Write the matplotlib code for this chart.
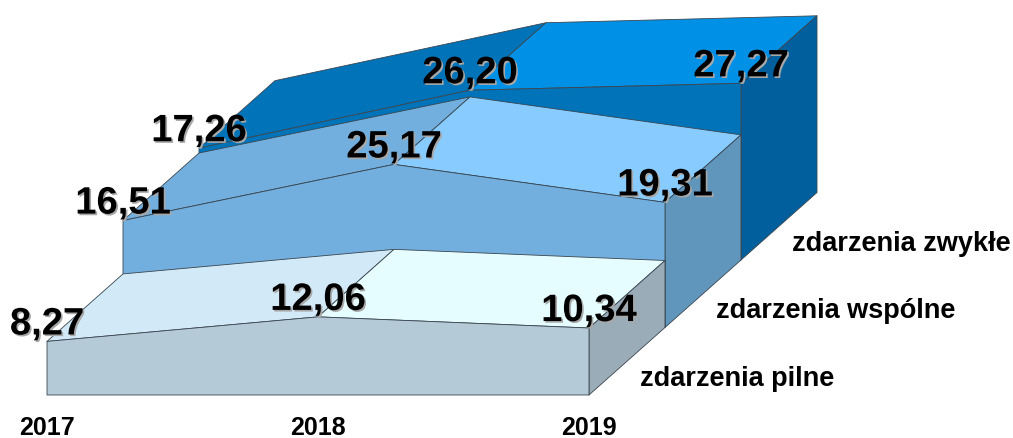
#!/usr/bin/python3

import matplotlib
matplotlib.use("Agg")
import matplotlib.pyplot as plt
import matplotlib.patheffects as pe
from matplotlib.patches import Polygon

plt.rcParams['font.family'] = ['Liberation Sans', 'DejaVu Sans']

lata = ['2017', '2018', '2019']
serie = ['zdarzenia pilne', 'zdarzenia wspólne', 'zdarzenia zwykłe']
pilne = [8.27, 12.06, 10.34]
wspolne = [16.51, 25.17, 19.31]
zwykle = [17.26, 26.20, 27.27]
wartosci = [pilne, wspolne, zwykle]

# kolory: gora lewa, gora prawa, przod, bok
kolory = [
    ('#D2EAF8', '#E6FDFF', '#B5CAD7', '#9AACB8'),
    ('#73AFDE', '#87CBFF', '#73AFDE', '#6196BC'),
    ('#0073B9', '#0091E6', '#0073B9', '#005F9C'),
]
KRAWEDZ = '#3A4650'


def rzut(kat, glebokosc, wartosc):
    # Rzut ukosny: kategoria, glebokosc i wartosc na piksele rysunku
    x = 47 + 271 * kat + 76 * glebokosc
    y = 395 - 67.5 * glebokosc - 6.48 * wartosc
    return (x, y)


def sciana(ax, punkty, kolor, z):
    ax.add_patch(Polygon(punkty, closed=True, facecolor=kolor,
                         edgecolor=KRAWEDZ, linewidth=0.6,
                         joinstyle='round', zorder=z))


fig = plt.figure(figsize=(10.13, 4.38), dpi=100)
ax = fig.add_axes([0, 0, 1, 1])
ax.set_xlim(0, 1013)
ax.set_ylim(438, 0)
ax.axis('off')

# Od tylu do przodu, zeby przednie serie zaslanialy tylne
for s in [2, 1, 0]:
    v = wartosci[s]
    z = 3 - s
    g_lewa, g_prawa, przod, bok = kolory[s]

    sciana(ax, [rzut(0, s, v[0]), rzut(1, s, v[1]),
                rzut(1, s + 1, v[1]), rzut(0, s + 1, v[0])], g_lewa, z)
    sciana(ax, [rzut(1, s, v[1]), rzut(2, s, v[2]),
                rzut(2, s + 1, v[2]), rzut(1, s + 1, v[1])], g_prawa, z)
    sciana(ax, [rzut(2, s, 0), rzut(2, s + 1, 0),
                rzut(2, s + 1, v[2]), rzut(2, s, v[2])], bok, z)
    sciana(ax, [rzut(0, s, 0), rzut(1, s, 0), rzut(2, s, 0),
                rzut(2, s, v[2]), rzut(1, s, v[1]), rzut(0, s, v[0])], przod, z)

# Etykiety wartosci
cien = [pe.SimplePatchShadow(offset=(1.2, -1.2), shadow_rgbFace='#A8A8A8', alpha=1),
        pe.Normal()]
for s in range(3):
    for k in range(3):
        tekst = ('%.2f' % wartosci[s][k]).replace('.', ',')
        ax.annotate(tekst, xy=rzut(k, s, wartosci[s][k]), xytext=(0, 5),
                    textcoords='offset points', ha='center', va='baseline',
                    fontsize=27.5, fontweight='bold', color='black',
                    path_effects=cien, zorder=10)

# Lata
for k in range(3):
    x, y = rzut(k, 0, 0)
    ax.text(x, 435, lata[k], ha='center', va='baseline', fontsize=18,
            fontweight='bold', color='black')

# Nazwy serii
for s in range(3):
    ax.annotate(serie[s], xy=rzut(2, s, 0), xytext=(37, 11.7),
                textcoords='offset points', ha='left', va='center',
                fontsize=19.5, fontweight='bold', color='black')

fig.savefig('out.png', dpi=100, facecolor='white')
